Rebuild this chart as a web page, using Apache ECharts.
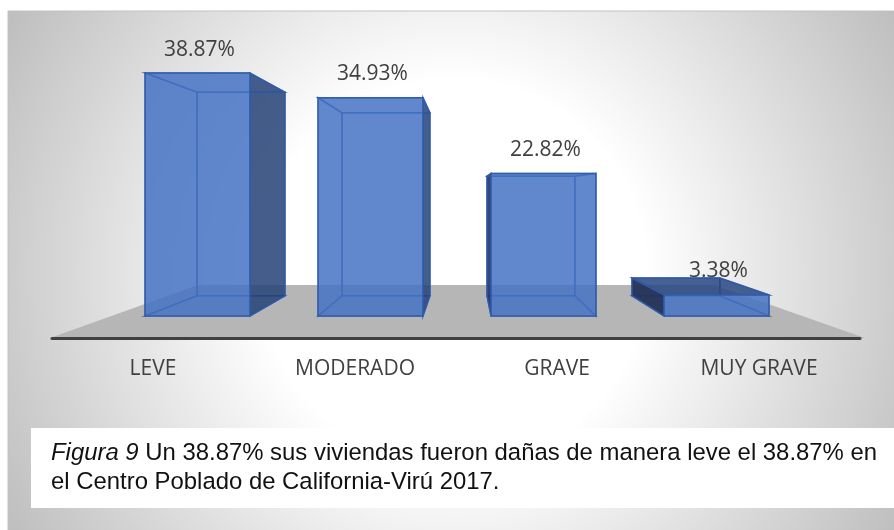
<!DOCTYPE html>
<html>
<head>
<meta charset="utf-8">
<style>
  html, body { margin: 0; padding: 0; background: #fff; }
  #main { width: 894px; height: 530px; }
</style>
<script src="https://cdn.jsdelivr.net/npm/echarts@6/dist/echarts.min.js"></script>
</head>
<body>
<div id="main"></div>
<script>
// datos
var categories = ['LEVE', 'MODERADO', 'GRAVE', 'MUY GRAVE'];
var percentValues = [38.87, 34.93, 22.82, 3.38];

// perspectiva del grafico 3D de Excel
var vanishX = 466;
var vanishY = 191;
var backScale = 0.838;

function toBack(p) {
  return [
    p[0] * backScale + vanishX * (1 - backScale),
    p[1] * backScale + vanishY * (1 - backScale)
  ];
}

var edgeColor = 'rgba(47,90,170,0.85)';

function face(points, fill) {
  return {
    type: 'polygon',
    shape: { points: points },
    style: { fill: fill, stroke: edgeColor, lineWidth: 1.5 }
  };
}

function renderBox(params, api) {
  var idx = api.value(0);
  var top = api.coord([idx, api.value(1)]);
  var bottom = api.coord([idx, 0]);
  var half = api.size([1, 0])[0] * 0.606 / 2;

  var fl = [top[0] - half, top[1]];
  var fr = [top[0] + half, top[1]];
  var nl = [top[0] - half, bottom[1]];
  var nr = [top[0] + half, bottom[1]];
  var bfl = toBack(fl), bfr = toBack(fr), bnl = toBack(nl), bnr = toBack(nr);

  // las caras solo se oscurecen cuando sobresalen de la cara frontal
  var faint = 'rgba(68,114,196,0.04)';
  var leftFill = bfl[0] < fl[0] ? (top[1] > vanishY ? 'rgba(36,50,90,0.95)' : 'rgba(30,52,105,0.9)') : faint;
  var rightFill = bfr[0] > fr[0] ? 'rgba(38,66,118,0.85)' : faint;
  var topFill = bfl[1] < fl[1] ? 'rgba(40,70,130,0.85)' : faint;

  var children = [
    face([bfl, bfr, bnr, bnl], faint),
    face([bnl, bnr, nr, nl], faint),
    face([fl, bfl, bnl, nl], leftFill),
    face([fr, bfr, bnr, nr], rightFill),
    face([fl, fr, bfr, bfl], topFill),
    face([fl, fr, nr, nl], 'rgba(68,114,196,0.84)'),
    {
      type: 'text',
      style: {
        text: api.value(1).toFixed(2) + '%',
        x: top[0] + 2,
        y: top[1] - 23.5,
        align: 'center',
        verticalAlign: 'middle',
        fill: '#404040',
        font: '21px "Open Sans"'
      }
    }
  ];
  return { type: 'group', children: children };
}

var chart = echarts.init(document.getElementById('main'), null, { renderer: 'canvas' });

chart.setOption({
  animation: false,
  backgroundColor: '#ffffff',
  textStyle: { fontFamily: '"Open Sans"' },
  title: {
    left: 46,
    top: 434,
    text: '{i|Figura 9} Un 38.87% sus viviendas fueron dañas de manera leve el 38.87% en\nel Centro Poblado de California-Virú 2017.',
    textStyle: {
      fontFamily: '"Liberation Sans"',
      fontSize: 23.9,
      fontWeight: 'normal',
      color: '#111111',
      lineHeight: 29,
      rich: {
        i: { fontFamily: '"Liberation Sans"', fontSize: 23.9, fontStyle: 'italic', color: '#111111', lineHeight: 29 }
      }
    }
  },
  graphic: [
    {
      type: 'rect',
      z: -10,
      shape: { x: 8, y: 11, width: 890, height: 523 },
      style: {
        stroke: '#c2c2c2',
        lineWidth: 1,
        fill: new echarts.graphic.RadialGradient(0.5, 0.5, 0.99, [
          { offset: 0, color: '#ffffff' },
          { offset: 0.37, color: '#ffffff' },
          { offset: 1, color: '#bdbdbd' }
        ])
      }
    },
    {
      type: 'polygon',
      z: -9,
      shape: { points: [[198, 285], [714, 285], [865, 338], [50, 338]] },
      style: { fill: '#b6b6b6' }
    },
    {
      type: 'rect',
      z: -8,
      shape: { x: 31, y: 428, width: 863, height: 80 },
      style: { fill: '#ffffff' }
    }
  ],
  grid: [
    { left: 111, top: 66, width: 692, height: 250 },
    { left: 52, top: 318, width: 808, height: 20 }
  ],
  xAxis: [
    {
      type: 'category',
      gridIndex: 0,
      data: categories,
      show: false
    },
    {
      type: 'category',
      gridIndex: 1,
      data: categories,
      axisTick: { show: false },
      axisLine: { lineStyle: { color: '#404040', width: 3 } },
      axisLabel: { color: '#404040', fontSize: 21, margin: 21, fontFamily: '"Open Sans"', interval: 0 }
    }
  ],
  yAxis: [
    { type: 'value', gridIndex: 0, min: 0, max: 40, show: false },
    { type: 'value', gridIndex: 1, min: 0, max: 1, show: false }
  ],
  series: [
    {
      type: 'custom',
      xAxisIndex: 0,
      yAxisIndex: 0,
      clip: false,
      renderItem: renderBox,
      encode: { x: 0, y: 1 },
      data: percentValues.map(function (v, i) { return [i, v]; })
    }
  ]
});
</script>
</body>
</html>
